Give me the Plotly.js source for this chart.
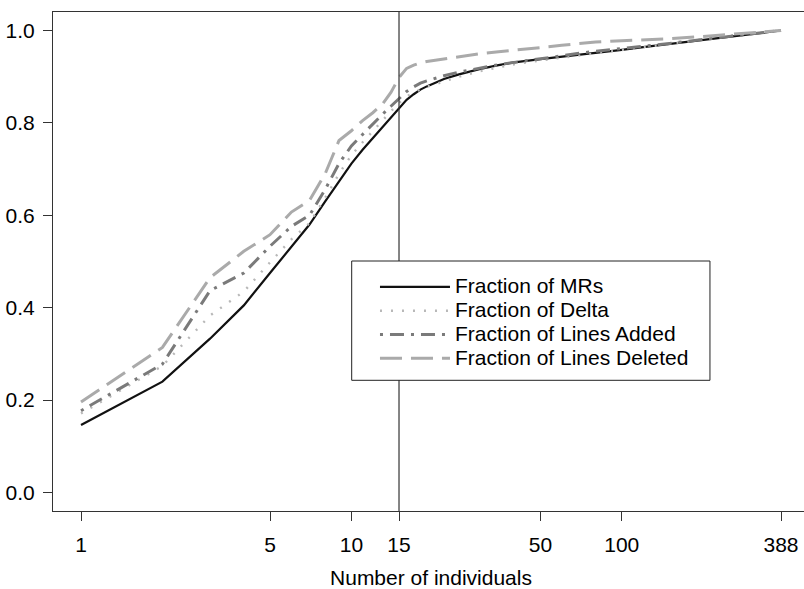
<!DOCTYPE html>
<html>
<head>
<meta charset="utf-8">
<script src="https://cdn.plot.ly/plotly-3.0.1.min.js"></script>
<style>
html, body { margin:0; padding:0; overflow:hidden; background:#fff; }
#chart { width:815px; height:589px; }
</style>
</head>
<body>
<div id="chart"></div>
<script>
// Number of individuals (rank), read positions
var individuals = [1,2,3,4,5,6,7,8,9,10,11,12,13,14,15,16,17,18,19,20,22,25,30,35,40,50,60,70,80,100,120,150,200,250,300,350,388];

var fracMRs = [0.146,0.240,0.333,0.405,0.475,0.532,0.580,0.630,0.674,0.712,0.742,0.767,0.790,0.812,0.833,0.850,0.862,0.872,0.879,0.885,0.895,0.905,0.917,0.925,0.931,0.938,0.943,0.948,0.952,0.958,0.964,0.971,0.980,0.987,0.993,0.997,1.000];

var fracDelta = [0.171,0.274,0.383,0.435,0.498,0.548,0.583,0.638,0.690,0.730,0.758,0.783,0.805,0.825,0.843,0.857,0.866,0.873,0.878,0.882,0.890,0.900,0.912,0.920,0.927,0.935,0.941,0.947,0.952,0.959,0.965,0.972,0.981,0.988,0.994,0.998,1.000];

var fracAdded = [0.177,0.278,0.437,0.475,0.533,0.576,0.600,0.656,0.712,0.750,0.775,0.798,0.818,0.836,0.852,0.868,0.878,0.886,0.891,0.895,0.902,0.910,0.919,0.926,0.931,0.938,0.945,0.951,0.955,0.962,0.966,0.972,0.981,0.987,0.993,0.997,1.000];

var fracDeleted = [0.196,0.314,0.465,0.522,0.558,0.607,0.632,0.690,0.762,0.783,0.805,0.822,0.840,0.866,0.898,0.918,0.925,0.930,0.933,0.935,0.939,0.944,0.950,0.954,0.957,0.963,0.968,0.972,0.975,0.978,0.980,0.982,0.987,0.991,0.995,0.998,1.000];

var seriesNames = ['Fraction of MRs','Fraction of Delta','Fraction of Lines Added','Fraction of Lines Deleted'];

var xTickVals = [1,5,10,15,50,100,388];
var xTickText = ['1','5','10','15','50','100','388'];
var yTickVals = [0,0.2,0.4,0.6,0.8,1.0];
var cutoff = 15;

function legendName(s) { return '<span style="font-size:21px">' + s + '</span>'; }

var traces = [
  {x: individuals, y: fracMRs, name: legendName(seriesNames[0]), type:'scatter', mode:'lines',
   line:{color:'#111111', width:2.2}},
  {x: individuals, y: fracDelta, name: legendName(seriesNames[1]), type:'scatter', mode:'lines',
   line:{color:'#b8b8b8', width:2.4, dash:'2px,9px'}},
  {x: individuals, y: fracAdded, name: legendName(seriesNames[2]), type:'scatter', mode:'lines',
   line:{color:'#7a7a7a', width:3, dash:'3px,7px,14px,7px'}},
  {x: individuals, y: fracDeleted, name: legendName(seriesNames[3]), type:'scatter', mode:'lines',
   line:{color:'#aaaaaa', width:3, dash:'22px,9px'}}
];

var fontFam = 'Liberation Sans, Arial, Helvetica, sans-serif';

var layout = {
  width: 815, height: 589,
  margin: {l:53, r:6, t:12, b:78, pad:0},
  paper_bgcolor:'#ffffff', plot_bgcolor:'#ffffff',
  font: {family: fontFam, size: 21, color:'#000000'},
  showlegend: true,
  legend: {x:0.4259, y:0.483, xanchor:'left', yanchor:'top', bgcolor:'rgba(0,0,0,0)',
           borderwidth:0, font:{family: fontFam, size:16, color:'#000'},
           itemwidth: 70, tracegroupgap: 0},
  xaxis: {type:'log', range:[-0.1036, 2.6924], tickmode:'array', tickvals:xTickVals, ticktext:xTickText,
          ticks:'outside', ticklen:9, tickwidth:1, tickcolor:'#333333',
          showline:true, mirror:true, linecolor:'#333333', linewidth:1,
          showgrid:false, zeroline:false, ticklabelstandoff: 6,
          tickfont:{family: fontFam, size:21, color:'#000'},
          title:{text:'Number of individuals', font:{family: fontFam, size:21, color:'#000'}, standoff: 18}},
  yaxis: {range:[-0.04, 1.04], tickmode:'array', tickvals:yTickVals, tickformat:'.1f',
          ticks:'outside', ticklen:9, tickwidth:1, tickcolor:'#333333',
          showline:true, mirror:true, linecolor:'#333333', linewidth:1,
          showgrid:false, zeroline:false, ticklabelstandoff: 4,
          tickfont:{family: fontFam, size:21, color:'#000'}},
  shapes: [
    {type:'line', xref:'x', yref:'paper', x0:cutoff, x1:cutoff, y0:0, y1:1,
     line:{color:'#333333', width:1.2}},
    {type:'rect', xref:'paper', yref:'paper', x0:0.3951, x1:0.8690, y0:0.2619, y1:0.5010,
     fillcolor:'#ffffff', line:{color:'#222222', width:1}, layer:'above'}
  ]
};

Plotly.newPlot('chart', traces, layout, {displayModeBar:false, staticPlot:true});
</script>
</body>
</html>
